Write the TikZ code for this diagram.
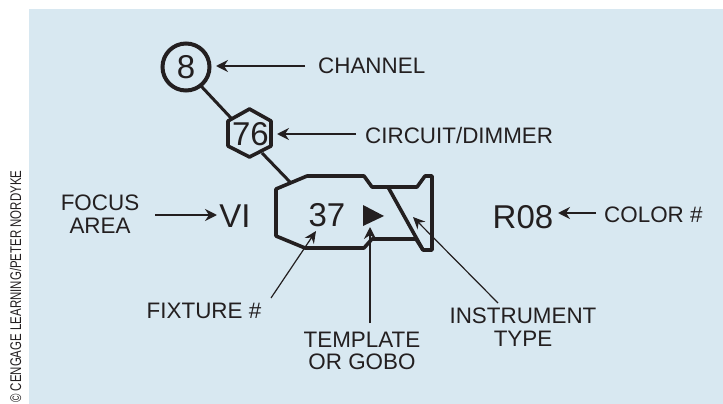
\documentclass[tikz,border=0pt]{standalone}
\usepackage{fontspec}
\setmainfont{Liberation Sans}
\usetikzlibrary{arrows.meta}
\definecolor{bgblue}{HTML}{D8E8F1}
\definecolor{ink}{HTML}{231F20}
\tikzset{x=1pt,y=-1pt,
 lbl/.style={font=\fontsize{22.4}{22.5}\selectfont,text=ink,align=center,inner sep=0pt},
 big/.style={font=\fontsize{33}{35}\selectfont,text=ink,inner sep=0pt},
 heavy/.style={draw=ink,line width=3.6pt,line join=round},
 link/.style={draw=ink,line width=3pt},
 ptr/.style={draw=ink,line width=2pt,-{Stealth[length=12pt,width=12pt,inset=4pt]}},
 thin ptr/.style={draw=ink,line width=1.2pt,-{Stealth[length=12pt,width=11pt,inset=4pt]}}}
\begin{document}
\begin{tikzpicture}
\useasboundingbox (0,0) rectangle (723,404);
\fill[bgblue] (29,9) rectangle (723,404);
% instrument
\draw[heavy] (276,189) -- (307,176) -- (364,176) -- (372,187) -- (417,187) -- (425,176) -- (432,176) -- (432,250) -- (423,250) -- (416,239) -- (372,239) -- (364,248) -- (305,248) -- (276,236) -- cycle;
\draw[heavy] (388,187) -- (423,250);
\coordinate (bodytop) at (290,182);
\node[big] (fixture) at (327,215) {37};
\fill[ink] (363,205) -- (384,216) -- (363,226) -- cycle;
\coordinate (gobo) at (370,227);
% channel, circuit
\node[circle,draw=ink,line width=4pt,minimum size=47pt,inner sep=0pt,big] (chan) at (186,67) {8};
\node[big] (circ) at (250.5,134) {76};
\draw[heavy] (249.5,109) -- (271,121) -- (271,146) -- (249.5,157) -- (228,146) -- (228,121) -- cycle;
\coordinate (chanfoot) at (201,86);
\coordinate (hexa) at (231,118);
\coordinate (hexb) at (262,153);
\draw[link] (chanfoot) -- (hexa);
\draw[link] (hexb) -- (bodytop);
% labels
\node[lbl,anchor=west] (lchan) at (318,66) {CHANNEL};
\node[lbl,anchor=west] (lcirc) at (365,135) {CIRCUIT/DIMMER};
\node[lbl] (lfocus) at (100,214) {FOCUS\\AREA};
\node[big] (vi) at (235,216) {VI};
\node[big] (r08) at (523,217) {R08};
\node[lbl,anchor=west] (lcolor) at (604,215) {COLOR \#};
\node[lbl] (lfix) at (204,311) {FIXTURE \#};
\node[lbl] (lgobo) at (362,351) {TEMPLATE\\OR GOBO};
\node[lbl] (linst) at (523,327) {INSTRUMENT\\TYPE};
\draw[ptr] (305,66) -- (216,66);
\draw[ptr] (356,134) -- (277,134);
\draw[ptr] (155,215) -- (217,215);
\draw[ptr] (596,213) -- (558,213);
\draw[thin ptr] (271,298) -- (316,231);
\draw[ptr] (370,323) -- (gobo);
\draw[thin ptr] (498,303) -- (413,217);
\node[font=\fontsize{15.5}{16}\selectfont,text=ink,rotate=90,anchor=west,inner sep=0pt] (copy) at (15.5,403) {\scalebox{0.74}[1]{© CENGAGE\ LEARNING/PETER\ NORDYKE}};
\end{tikzpicture}
\end{document}
